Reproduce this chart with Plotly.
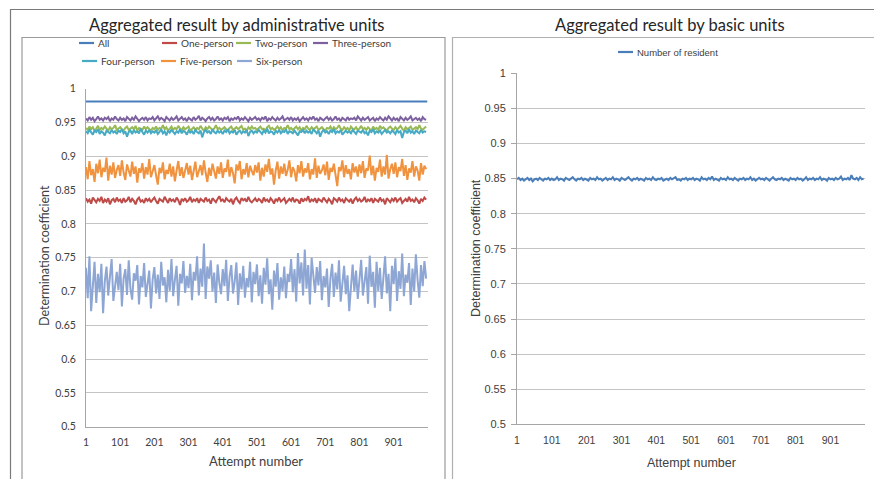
import plotly.graph_objects as go

W, H = 882, 479
PAGE_OFFSET = 8  # the browser's default body margin shifts the figure by 8px

# ---- data ----
attempt = list(range(1, 1001, 5))      # every 5th attempt
attempt_all = [1, 101, 201, 301, 401, 501, 601, 701, 801, 901, 1000]

all_units = [0.981, 0.981, 0.981, 0.981, 0.981, 0.981, 0.981, 0.981, 0.981, 0.981, 0.981]

one_person = [
    0.838, 0.833, 0.836, 0.830, 0.839, 0.835, 0.832, 0.837, 0.834, 0.840, 0.831, 0.836, 0.833, 0.838, 0.829, 0.835, 0.837, 0.832, 0.839, 0.834,
    0.836, 0.831, 0.838, 0.833, 0.835, 0.840, 0.832, 0.837, 0.834, 0.829, 0.836, 0.839, 0.833, 0.835, 0.831, 0.838, 0.834, 0.837, 0.832, 0.836,
    0.839, 0.834, 0.830, 0.837, 0.835, 0.833, 0.840, 0.836, 0.831, 0.838, 0.834, 0.836, 0.832, 0.839, 0.835, 0.828, 0.837, 0.834, 0.838, 0.833,
    0.835, 0.840, 0.832, 0.836, 0.834, 0.838, 0.831, 0.837, 0.835, 0.833, 0.839, 0.834, 0.836, 0.830, 0.838, 0.835, 0.832, 0.837, 0.841, 0.834,
    0.836, 0.832, 0.838, 0.835, 0.833, 0.837, 0.829, 0.836, 0.839, 0.834, 0.831, 0.838, 0.835, 0.837, 0.833, 0.840, 0.834, 0.832, 0.836, 0.838,
    0.833, 0.837, 0.835, 0.831, 0.839, 0.834, 0.836, 0.832, 0.838, 0.835, 0.830, 0.837, 0.834, 0.839, 0.833, 0.836, 0.838, 0.831, 0.835, 0.837,
    0.834, 0.839, 0.832, 0.836, 0.835, 0.830, 0.838, 0.833, 0.837, 0.835, 0.841, 0.832, 0.836, 0.834, 0.838, 0.831, 0.837, 0.835, 0.833, 0.839,
    0.835, 0.832, 0.837, 0.834, 0.829, 0.838, 0.836, 0.833, 0.839, 0.834, 0.836, 0.831, 0.838, 0.835, 0.833, 0.837, 0.830, 0.836, 0.839, 0.834,
    0.837, 0.833, 0.835, 0.840, 0.832, 0.836, 0.834, 0.838, 0.831, 0.837, 0.835, 0.833, 0.839, 0.834, 0.836, 0.829, 0.838, 0.835, 0.832, 0.837,
    0.834, 0.839, 0.833, 0.836, 0.838, 0.831, 0.835, 0.837, 0.833, 0.840, 0.834, 0.836, 0.832, 0.838, 0.835, 0.830, 0.837, 0.834, 0.839, 0.836]

two_person = [
    0.942, 0.939, 0.944, 0.940, 0.943, 0.938, 0.941, 0.945, 0.939, 0.942, 0.940, 0.944, 0.941, 0.938, 0.943, 0.940, 0.942, 0.946, 0.939, 0.941,
    0.943, 0.940, 0.938, 0.942, 0.944, 0.939, 0.941, 0.943, 0.940, 0.945, 0.938, 0.942, 0.941, 0.939, 0.944, 0.940, 0.943, 0.941, 0.938, 0.942,
    0.940, 0.944, 0.939, 0.942, 0.941, 0.946, 0.940, 0.943, 0.938, 0.941, 0.944, 0.939, 0.942, 0.940, 0.945, 0.941, 0.939, 0.943, 0.940, 0.942,
    0.944, 0.938, 0.941, 0.943, 0.939, 0.942, 0.940, 0.945, 0.941, 0.938, 0.943, 0.940, 0.944, 0.942, 0.939, 0.941, 0.946, 0.940, 0.942, 0.939,
    0.941, 0.943, 0.940, 0.938, 0.942, 0.944, 0.939, 0.941, 0.943, 0.940, 0.942, 0.945, 0.939, 0.941, 0.938, 0.943, 0.940, 0.944, 0.941, 0.942,
    0.939, 0.942, 0.944, 0.940, 0.941, 0.938, 0.943, 0.945, 0.940, 0.942, 0.939, 0.941, 0.944, 0.940, 0.943, 0.938, 0.942, 0.941, 0.946, 0.940,
    0.942, 0.939, 0.941, 0.944, 0.940, 0.943, 0.938, 0.942, 0.940, 0.945, 0.941, 0.939, 0.943, 0.940, 0.942, 0.944, 0.939, 0.941, 0.943, 0.940,
    0.938, 0.942, 0.941, 0.944, 0.939, 0.943, 0.940, 0.942, 0.946, 0.941, 0.939, 0.943, 0.940, 0.942, 0.938, 0.944, 0.941, 0.940, 0.943, 0.939,
    0.941, 0.945, 0.940, 0.942, 0.939, 0.943, 0.941, 0.938, 0.944, 0.940, 0.942, 0.939, 0.945, 0.941, 0.943, 0.940, 0.938, 0.942, 0.944, 0.941,
    0.939, 0.943, 0.940, 0.942, 0.945, 0.941, 0.938, 0.943, 0.940, 0.942, 0.944, 0.939, 0.941, 0.943, 0.940, 0.946, 0.941, 0.939, 0.942, 0.944]

three_person = [
    0.956, 0.953, 0.958, 0.954, 0.957, 0.952, 0.955, 0.959, 0.954, 0.956, 0.953, 0.957, 0.955, 0.958, 0.952, 0.956, 0.954, 0.959, 0.955, 0.953,
    0.957, 0.954, 0.956, 0.952, 0.958, 0.955, 0.953, 0.957, 0.954, 0.959, 0.956, 0.952, 0.955, 0.957, 0.954, 0.958, 0.953, 0.956, 0.955, 0.958,
    0.953, 0.956, 0.959, 0.954, 0.957, 0.955, 0.952, 0.958, 0.955, 0.953, 0.957, 0.954, 0.956, 0.959, 0.953, 0.955, 0.958, 0.954, 0.956, 0.952,
    0.957, 0.955, 0.953, 0.958, 0.954, 0.956, 0.960, 0.953, 0.957, 0.955, 0.952, 0.956, 0.958, 0.954, 0.957, 0.953, 0.955, 0.959, 0.954, 0.956,
    0.953, 0.957, 0.955, 0.958, 0.952, 0.956, 0.954, 0.957, 0.955, 0.959, 0.953, 0.956, 0.954, 0.958, 0.955, 0.952, 0.957, 0.954, 0.956, 0.958,
    0.954, 0.956, 0.953, 0.957, 0.955, 0.959, 0.952, 0.956, 0.954, 0.958, 0.955, 0.953, 0.957, 0.954, 0.956, 0.959, 0.953, 0.955, 0.957, 0.954,
    0.958, 0.953, 0.956, 0.954, 0.957, 0.952, 0.955, 0.958, 0.954, 0.956, 0.953, 0.957, 0.955, 0.959, 0.954, 0.956, 0.952, 0.957, 0.955, 0.953,
    0.956, 0.958, 0.954, 0.957, 0.953, 0.955, 0.959, 0.954, 0.956, 0.952, 0.957, 0.955, 0.953, 0.958, 0.954, 0.956, 0.955, 0.957, 0.953, 0.959,
    0.955, 0.953, 0.957, 0.954, 0.956, 0.958, 0.953, 0.955, 0.957, 0.952, 0.956, 0.954, 0.958, 0.955, 0.953, 0.957, 0.954, 0.959, 0.956, 0.953,
    0.957, 0.954, 0.956, 0.952, 0.958, 0.955, 0.953, 0.957, 0.954, 0.956, 0.959, 0.953, 0.955, 0.957, 0.954, 0.956, 0.952, 0.958, 0.955, 0.954]

four_person = [
    0.937, 0.934, 0.939, 0.935, 0.932, 0.938, 0.936, 0.940, 0.933, 0.937, 0.935, 0.931, 0.938, 0.936, 0.934, 0.939, 0.935, 0.937, 0.933, 0.938,
    0.936, 0.940, 0.934, 0.937, 0.929, 0.936, 0.938, 0.933, 0.939, 0.935, 0.937, 0.934, 0.941, 0.936, 0.932, 0.938, 0.935, 0.939, 0.934, 0.937,
    0.935, 0.938, 0.933, 0.936, 0.940, 0.934, 0.937, 0.931, 0.938, 0.935, 0.939, 0.936, 0.933, 0.937, 0.935, 0.940, 0.934, 0.938, 0.936, 0.932,
    0.938, 0.935, 0.937, 0.933, 0.939, 0.936, 0.934, 0.938, 0.928, 0.936, 0.939, 0.935, 0.937, 0.933, 0.940, 0.936, 0.934, 0.938, 0.935, 0.937,
    0.933, 0.938, 0.936, 0.940, 0.934, 0.937, 0.935, 0.939, 0.932, 0.936, 0.938, 0.934, 0.937, 0.935, 0.939, 0.930, 0.936, 0.938, 0.934, 0.937,
    0.935, 0.939, 0.936, 0.933, 0.938, 0.935, 0.941, 0.934, 0.937, 0.936, 0.932, 0.938, 0.935, 0.939, 0.934, 0.937, 0.936, 0.940, 0.933, 0.937,
    0.936, 0.934, 0.938, 0.935, 0.931, 0.937, 0.936, 0.939, 0.934, 0.938, 0.935, 0.937, 0.933, 0.940, 0.936, 0.934, 0.938, 0.929, 0.936, 0.939,
    0.935, 0.937, 0.933, 0.938, 0.936, 0.940, 0.934, 0.937, 0.935, 0.939, 0.932, 0.936, 0.938, 0.935, 0.937, 0.934, 0.939, 0.936, 0.933, 0.938,
    0.937, 0.935, 0.939, 0.934, 0.936, 0.931, 0.938, 0.936, 0.940, 0.934, 0.937, 0.935, 0.938, 0.933, 0.936, 0.939, 0.935, 0.937, 0.934, 0.938,
    0.936, 0.933, 0.939, 0.935, 0.937, 0.927, 0.936, 0.938, 0.934, 0.940, 0.935, 0.937, 0.933, 0.938, 0.936, 0.934, 0.939, 0.935, 0.937, 0.936]

five_person = [
    0.884, 0.866, 0.893, 0.872, 0.881, 0.862, 0.889, 0.875, 0.895, 0.869, 0.883, 0.877, 0.898, 0.864, 0.886, 0.873, 0.891, 0.868, 0.880, 0.887,
    0.871, 0.894, 0.876, 0.865, 0.888, 0.879, 0.870, 0.892, 0.874, 0.885, 0.861, 0.882, 0.876, 0.890, 0.867, 0.884, 0.873, 0.896, 0.869, 0.878,
    0.887, 0.872, 0.858, 0.883, 0.875, 0.891, 0.866, 0.880, 0.874, 0.889, 0.870, 0.885, 0.863, 0.879, 0.893, 0.871, 0.884, 0.868, 0.877, 0.890,
    0.873, 0.886, 0.865, 0.881, 0.892, 0.869, 0.878, 0.887, 0.872, 0.894, 0.876, 0.862, 0.883, 0.871, 0.889, 0.880, 0.867, 0.885, 0.874, 0.891,
    0.868, 0.882, 0.877, 0.895, 0.870, 0.884, 0.875, 0.860, 0.888, 0.879, 0.893, 0.866, 0.881, 0.873, 0.890, 0.869, 0.886, 0.878, 0.872, 0.887,
    0.876, 0.891, 0.864, 0.883, 0.870, 0.888, 0.877, 0.896, 0.873, 0.882, 0.858, 0.879, 0.892, 0.867, 0.885, 0.874, 0.889, 0.871, 0.880, 0.894,
    0.869, 0.884, 0.878, 0.863, 0.887, 0.875, 0.893, 0.870, 0.882, 0.876, 0.890, 0.866, 0.881, 0.873, 0.897, 0.868, 0.886, 0.874, 0.879, 0.888,
    0.872, 0.892, 0.865, 0.883, 0.877, 0.889, 0.871, 0.856, 0.884, 0.878, 0.894, 0.869, 0.887, 0.874, 0.881, 0.866, 0.890, 0.876, 0.885, 0.870,
    0.888, 0.875, 0.893, 0.868, 0.882, 0.879, 0.901, 0.872, 0.886, 0.864, 0.883, 0.877, 0.895, 0.870, 0.885, 0.873, 0.902, 0.867, 0.881, 0.889,
    0.874, 0.891, 0.869, 0.884, 0.878, 0.896, 0.871, 0.887, 0.865, 0.882, 0.876, 0.893, 0.870, 0.885, 0.879, 0.864, 0.890, 0.873, 0.886, 0.881]

six_person = [
    0.735, 0.690, 0.752, 0.671, 0.708, 0.744, 0.683, 0.726, 0.699, 0.741, 0.668, 0.715, 0.737, 0.694, 0.722, 0.748, 0.686, 0.711, 0.729, 0.702,
    0.741, 0.678, 0.719, 0.733, 0.695, 0.746, 0.704, 0.688, 0.727, 0.716, 0.739, 0.681, 0.723, 0.706, 0.742, 0.692, 0.714, 0.731, 0.675, 0.718,
    0.736, 0.697, 0.725, 0.689, 0.744, 0.709, 0.721, 0.684, 0.732, 0.701, 0.748, 0.693, 0.717, 0.738, 0.679, 0.726, 0.712, 0.745, 0.698, 0.723,
    0.705, 0.741, 0.687, 0.729, 0.716, 0.752, 0.694, 0.734, 0.707, 0.771, 0.689, 0.737, 0.719, 0.746, 0.700, 0.728, 0.683, 0.740, 0.713, 0.696,
    0.733, 0.708, 0.747, 0.686, 0.722, 0.739, 0.697, 0.715, 0.743, 0.680, 0.727, 0.703, 0.738, 0.691, 0.720, 0.706, 0.744, 0.684, 0.729, 0.711,
    0.740, 0.693, 0.724, 0.682, 0.735, 0.710, 0.749, 0.696, 0.718, 0.673, 0.731, 0.707, 0.742, 0.688, 0.721, 0.701, 0.737, 0.690, 0.726, 0.714,
    0.748, 0.699, 0.733, 0.685, 0.757, 0.712, 0.743, 0.694, 0.762, 0.704, 0.739, 0.681, 0.750, 0.720, 0.698, 0.736, 0.709, 0.745, 0.687, 0.723,
    0.706, 0.734, 0.677, 0.719, 0.741, 0.692, 0.728, 0.703, 0.746, 0.685, 0.716, 0.738, 0.696, 0.724, 0.671, 0.713, 0.740, 0.700, 0.731, 0.689,
    0.722, 0.747, 0.694, 0.715, 0.736, 0.682, 0.753, 0.707, 0.729, 0.676, 0.744, 0.701, 0.735, 0.689, 0.719, 0.752, 0.697, 0.726, 0.671, 0.738,
    0.711, 0.749, 0.686, 0.730, 0.704, 0.756, 0.693, 0.725, 0.713, 0.742, 0.680, 0.734, 0.700, 0.755, 0.717, 0.691, 0.739, 0.708, 0.745, 0.719]

number_of_resident = [
    0.849, 0.851, 0.848, 0.850, 0.847, 0.849, 0.851, 0.848, 0.850, 0.846, 0.849, 0.850, 0.848, 0.851, 0.849, 0.847, 0.850, 0.849, 0.851, 0.848,
    0.850, 0.848, 0.849, 0.852, 0.848, 0.850, 0.849, 0.847, 0.851, 0.849, 0.848, 0.850, 0.852, 0.849, 0.847, 0.850, 0.849, 0.851, 0.848, 0.850,
    0.849, 0.847, 0.851, 0.849, 0.850, 0.848, 0.852, 0.849, 0.850, 0.847, 0.849, 0.851, 0.848, 0.850, 0.849, 0.852, 0.848, 0.850, 0.849, 0.847,
    0.851, 0.849, 0.848, 0.850, 0.852, 0.849, 0.847, 0.850, 0.849, 0.851, 0.848, 0.850, 0.849, 0.847, 0.851, 0.849, 0.850, 0.848, 0.852, 0.849,
    0.848, 0.850, 0.849, 0.851, 0.847, 0.849, 0.850, 0.848, 0.851, 0.849, 0.850, 0.852, 0.848, 0.849, 0.847, 0.850, 0.849, 0.851, 0.848, 0.850,
    0.849, 0.851, 0.848, 0.850, 0.849, 0.847, 0.852, 0.849, 0.850, 0.848, 0.851, 0.849, 0.853, 0.848, 0.850, 0.849, 0.847, 0.851, 0.849, 0.850,
    0.848, 0.852, 0.849, 0.850, 0.848, 0.851, 0.849, 0.847, 0.850, 0.849, 0.851, 0.848, 0.850, 0.849, 0.852, 0.848, 0.850, 0.847, 0.849, 0.851,
    0.849, 0.850, 0.848, 0.851, 0.849, 0.847, 0.850, 0.852, 0.849, 0.848, 0.850, 0.849, 0.851, 0.848, 0.850, 0.849, 0.847, 0.851, 0.849, 0.850,
    0.848, 0.851, 0.849, 0.850, 0.847, 0.849, 0.852, 0.848, 0.850, 0.849, 0.851, 0.848, 0.850, 0.849, 0.852, 0.848, 0.850, 0.849, 0.847, 0.851,
    0.849, 0.850, 0.848, 0.851, 0.849, 0.850, 0.853, 0.848, 0.850, 0.849, 0.851, 0.848, 0.855, 0.850, 0.849, 0.851, 0.848, 0.852, 0.849, 0.850]

x_ticks = [1, 101, 201, 301, 401, 501, 601, 701, 801, 901]
y_ticks = [0.5, 0.55, 0.6, 0.65, 0.7, 0.75, 0.8, 0.85, 0.9, 0.95, 1.0]
y_labels = ["0.5", "0.55", "0.6", "0.65", "0.7", "0.75", "0.8", "0.85", "0.9", "0.95", "1"]

left_series = [
    ("All", attempt_all, all_units, "#4A7EBB"),
    ("One-person", attempt, one_person, "#BE4B48"),
    ("Two-person", attempt, two_person, "#98B954"),
    ("Three-person", attempt, three_person, "#7D60A0"),
    ("Four-person", attempt, four_person, "#46AAC5"),
    ("Five-person", attempt, five_person, "#F0923E"),
    ("Six-person", attempt, six_person, "#8DA6D4"),
]
right_series = [("Number of resident", attempt, number_of_resident, "#4A7EBB")]


def px(x):
    return (x - PAGE_OFFSET) / W


def py(y):
    return 1 - (y - PAGE_OFFSET) / H


LEFT_FONT = "Lato, Carlito, Calibri, sans-serif"
RIGHT_FONT = "Liberation Sans, Arial, sans-serif"

fig = go.Figure()

for name, xs, ys, color in left_series:
    fig.add_trace(go.Scatter(x=xs, y=ys, name=name, mode="lines",
                             line=dict(color=color, width=2),
                             xaxis="x", yaxis="y", showlegend=False))
for name, xs, ys, color in right_series:
    fig.add_trace(go.Scatter(x=xs, y=ys, name=name, mode="lines",
                             line=dict(color=color, width=2),
                             xaxis="x2", yaxis="y2", showlegend=False))

axis_common = dict(range=[1, 1000], tickvals=x_ticks, showgrid=False, zeroline=False,
                   showline=True, linecolor="#A6A6A6", linewidth=1, ticks="",
                   ticklabelstandoff=6, automargin=False, fixedrange=True)
yaxis_common = dict(range=[0.5, 1.0], tickvals=y_ticks, ticktext=y_labels,
                    showgrid=True, gridcolor="#C4C4C4", gridwidth=1, zeroline=False,
                    showline=True, linecolor="#A6A6A6", linewidth=1,
                    automargin=False, fixedrange=True)

fig.update_layout(
    width=W, height=H,
    margin=dict(l=0, r=0, t=0, b=0),
    paper_bgcolor="white", plot_bgcolor="white",
    xaxis=dict(axis_common, domain=[px(86), px(427.5)], anchor="y",
               tickfont=dict(family=LEFT_FONT, size=10.5, color="#404040")),
    yaxis=dict(yaxis_common, domain=[py(426.7), py(88.7)], anchor="x",
               ticks="", ticklabelstandoff=7,
               tickfont=dict(family=LEFT_FONT, size=10.5, color="#404040")),
    xaxis2=dict(axis_common, domain=[px(517), px(865)], anchor="y2",
                tickfont=dict(family=RIGHT_FONT, size=10.5, color="#404040")),
    yaxis2=dict(yaxis_common, domain=[py(424.3), py(73.3)], anchor="x2",
                ticks="outside", ticklen=5, tickcolor="#A6A6A6", ticklabelstandoff=3,
                tickfont=dict(family=RIGHT_FONT, size=11, color="#404040")),
)

annotations = [
    dict(text="Aggregated result by administrative units", x=px(237), y=py(25),
         font=dict(family=LEFT_FONT, size=16.5, color="#262626")),
    dict(text="Aggregated result by basic units", x=px(670), y=py(25),
         font=dict(family=LEFT_FONT, size=16.5, color="#262626")),
    dict(text="Attempt number", x=px(256), y=py(461),
         font=dict(family=LEFT_FONT, size=13, color="#404040")),
    dict(text="Determination coefficient", x=px(45), y=py(256), textangle=-90,
         font=dict(family=LEFT_FONT, size=12.5, color="#404040")),
    dict(text="Attempt number", x=px(691), y=py(463),
         font=dict(family=RIGHT_FONT, size=12.5, color="#404040")),
    dict(text="Determination coefficient", x=px(475.5), y=py(248.5), textangle=-90,
         font=dict(family=RIGHT_FONT, size=12.5, color="#404040")),
]
for a in annotations:
    a.update(xref="paper", yref="paper", showarrow=False, xanchor="center", yanchor="middle")

shapes = [
    # outer border of the figure
    dict(type="line", x0=px(10), x1=px(890), y0=py(9.5), y1=py(9.5), line=dict(color="#7A7A7A", width=1.2)),
    dict(type="line", x0=px(10.5), x1=px(10.5), y0=py(9.5), y1=py(490), line=dict(color="#7A7A7A", width=1.2)),
    # chart frames
    dict(type="rect", x0=px(22), x1=px(445), y0=py(495), y1=py(37.5), line=dict(color="#9A9A9A", width=1.2)),
    dict(type="rect", x0=px(452.5), x1=px(879), y0=py(495), y1=py(37.5), line=dict(color="#B0B0B0", width=1.2)),
]

# hand-made Excel style legends: (line start, row y) for every series
left_legend_pos = [(79, 43), (162, 43), (236, 43), (313, 43), (82, 61), (161, 61), (237, 61)]
right_legend_pos = [(618, 52)]
for (name, _, _, color), (lx, ly), font, fsize in (
        [(s, p, LEFT_FONT, 10) for s, p in zip(left_series, left_legend_pos)] +
        [(s, p, RIGHT_FONT, 9.5) for s, p in zip(right_series, right_legend_pos)]):
    shapes.append(dict(type="line", x0=px(lx), x1=px(lx + 15), y0=py(ly), y1=py(ly),
                       line=dict(color=color, width=2.2)))
    annotations.append(dict(text=name, x=px(lx + 17), y=py(ly), xref="paper", yref="paper",
                            showarrow=False, xanchor="left", yanchor="middle",
                            font=dict(family=font, size=fsize, color="#404040")))

for s in shapes:
    s.update(xref="paper", yref="paper", layer="above")

fig.update_layout(annotations=annotations, shapes=shapes)

fig.write_html("out.html")
